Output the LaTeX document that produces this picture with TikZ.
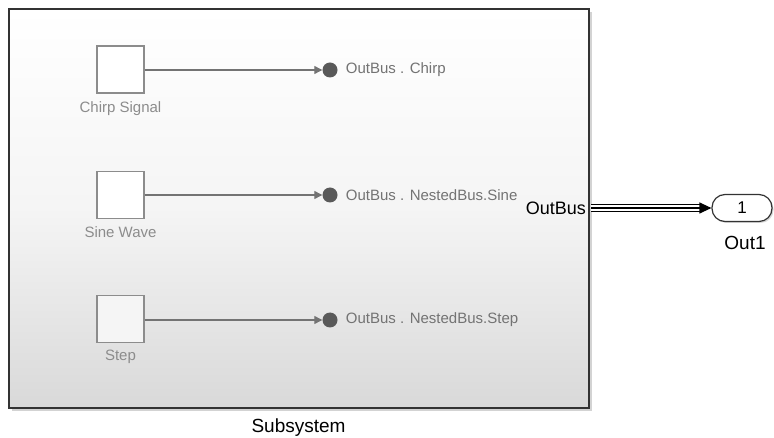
\documentclass[tikz,border=0pt]{standalone}
\usepackage{fontspec}
\setmainfont{Liberation Sans}
\usetikzlibrary{positioning,arrows.meta,shadows}
\tikzset{
  every node/.style={font=\fontsize{15}{17}\selectfont},
  big/.style={font=\fontsize{19}{21}\selectfont},
  subsys/.style={
    draw=black!80, line width=2pt, anchor=north west,
    top color=white, bottom color=black!15, middle color=black!4,
    drop shadow={shadow xshift=3pt, shadow yshift=-3pt, opacity=0.35}
  },
  src/.style={
    draw=black!45, line width=1.2pt, fill=white,
    minimum size=47pt, inner sep=0pt
  },
  lbl/.style={text=black!45, inner sep=1pt},
  sig/.style={-{Triangle[length=8pt,width=8pt]}, line width=1.2pt, draw=black!55},
  tag/.style={circle, fill=black!65, minimum size=15pt, inner sep=0pt},
  outport/.style={
    draw=black!80, line width=1.2pt, fill=white, rounded corners=13pt,
    minimum width=60pt, minimum height=27pt, inner sep=0pt,
    drop shadow={shadow xshift=1.5pt, shadow yshift=-1.5pt, opacity=0.3}
  }
}

\begin{document}
\begin{tikzpicture}[x=1pt, y=-1pt]

\useasboundingbox (0,0) rectangle (774,438);

\node[subsys, minimum width=580pt, minimum height=399pt] (subsys) at (8,8) {};
\node[big, inner sep=0pt] (subsyslbl) at (298.5,428) {Subsystem};

% sources
\node[src] (chirp) at (120.5,69.5) {};
\node[lbl, below=7pt of chirp] (chirplbl) {Chirp Signal};
\node[src] (sine) at (120.5,195) {};
\node[lbl, below=6pt of sine] (sinelbl) {Sine Wave};
\node[src, fill=black!4] (step) at (120.5,319) {};
\node[lbl, below=6pt of step] (steplbl) {Step};

% bus element tags
\node[tag] (chirptag) at (330,70) {};
\node[lbl, text=black!55, right=7pt of chirptag] (chirpel) {OutBus . Chirp};
\node[tag] (sinetag) at (330,195) {};
\node[lbl, text=black!55, right=7pt of sinetag] (sineel) {OutBus . NestedBus.Sine};
\node[tag] (steptag) at (330,320) {};
\node[lbl, text=black!55, right=7pt of steptag] (stepel) {OutBus . NestedBus.Step};

\draw[sig] (chirp.east |- chirptag) -- (chirptag.west);
\draw[sig] (sine.east |- sinetag) -- (sinetag.west);
\draw[sig] (step.east |- steptag) -- (steptag.west);

% output port
\node[outport, font=\fontsize{17}{19}\selectfont] (out1) at (742,208) {1};
\node[big, inner sep=0pt] (out1lbl) at (745,243) {Out1};
\node[anchor=east, font=\fontsize{18}{20}\selectfont, inner sep=1pt] (outbus)
  at ([xshift=-3pt]subsys.east |- out1) {OutBus};

\coordinate (busstart) at ([xshift=1pt]subsys.east |- out1);
\draw[line width=8.5pt, shorten >=11pt] (busstart) -- (out1.west);
\draw[line width=6pt, white, shorten >=11pt] (busstart) -- (out1.west);
\draw[line width=1.2pt, -{Triangle[length=12pt,width=11pt]}] (busstart) -- (out1.west);

\end{tikzpicture}
\end{document}
